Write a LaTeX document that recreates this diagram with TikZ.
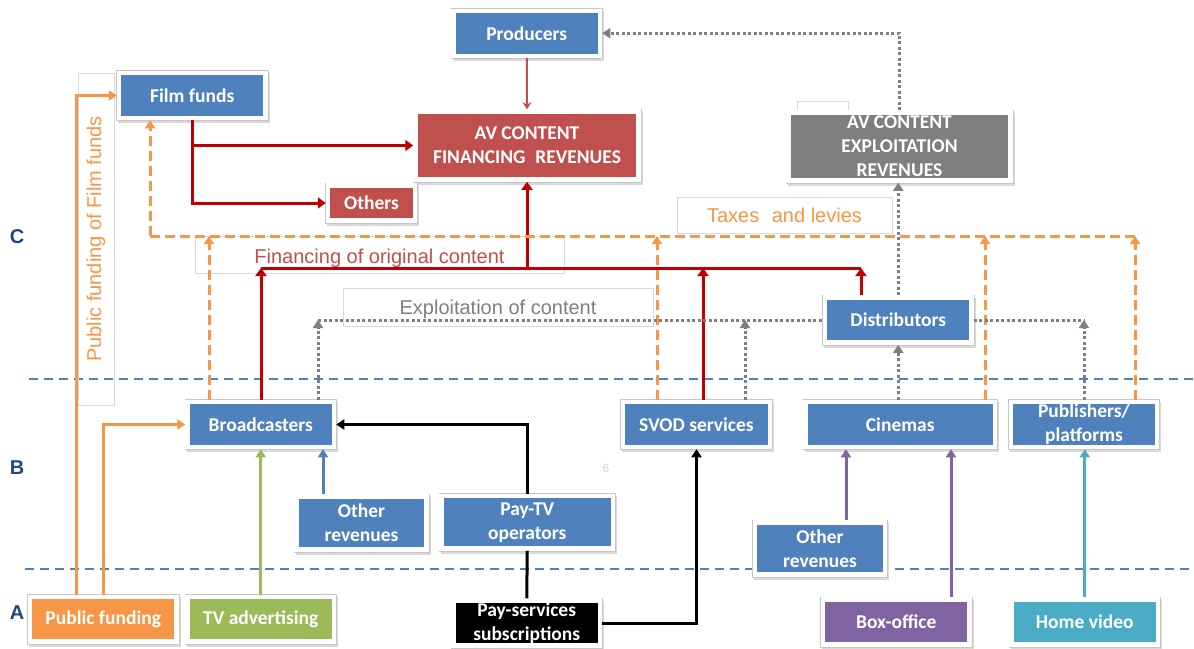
\documentclass[tikz,border=0pt]{standalone}
\usepackage{fontspec}
\setmainfont{Liberation Sans}
\newfontfamily\boxfont{Carlito}
\usetikzlibrary{arrows.meta}
\definecolor{cblue}{HTML}{4F81BD}
\definecolor{cred}{HTML}{C0504D}
\definecolor{cgray}{HTML}{7F7F7F}
\definecolor{corange}{HTML}{F79646}
\definecolor{cgreen}{HTML}{9BBB59}
\definecolor{cpurple}{HTML}{8064A2}
\definecolor{cteal}{HTML}{4BACC6}
\definecolor{darkred}{HTML}{C00000}
\definecolor{cletter}{HTML}{1F497D}
\tikzset{
  cbox/.style={rectangle, inner sep=0pt, draw=white, line width=4.5pt, text=white,
    font=\boxfont\bfseries\fontsize{19.5}{24}\selectfont, align=center,
    minimum width=146.5pt, minimum height=45pt,
    preaction={fill=black!15, draw=black!15, line width=5pt, transform canvas={shift={(1.5pt,-2.5pt)}}},
    preaction={draw=black!22, line width=6pt}},
  lbl/.style={draw=black!15, line width=0.8pt, inner sep=0pt, font=\fontsize{20}{24}\selectfont},
  sepline/.style={draw=cblue, line width=1.5pt, dash pattern=on 9pt off 6pt},
  redl/.style={draw=darkred, line width=3pt, -{Triangle[length=8pt,width=11pt]}},
  redplain/.style={draw=darkred, line width=3pt},
  prodl/.style={draw=cred, line width=2pt, -{Stealth[length=7pt,width=9pt]}},
  grayl/.style={draw=cgray, line width=3pt, dash pattern=on 3pt off 2.5pt, -{Triangle[length=8pt,width=10pt]}},
  grayplain/.style={draw=cgray, line width=3pt, dash pattern=on 3pt off 2.5pt},
  orl/.style={draw=corange, line width=3pt, dash pattern=on 10pt off 5pt, -{Triangle[length=8pt,width=10pt]}},
  orplain/.style={draw=corange, line width=3pt, dash pattern=on 10pt off 5pt},
  orsolid/.style={draw=corange, line width=3pt, -{Triangle[length=8pt,width=10pt]}},
  blk/.style={draw=black, line width=3pt, -{Triangle[length=8pt,width=10pt]}},
  blkplain/.style={draw=black, line width=3pt},
  colarrow/.style={draw=#1, line width=3pt, -{Triangle[length=8pt,width=10pt]}},
  letter/.style={text=cletter, font=\bfseries\fontsize{20}{24}\selectfont}
}
\begin{document}
\begin{tikzpicture}[x=1pt,y=-1pt]
\useasboundingbox (0,0) rectangle (1194,648);
\fill[white] (0,0) rectangle (1194,648);
% separators
\draw[sepline] (29,379) -- (1194,379);
\draw[sepline] (25,569) -- (1194,569);
% label boxes
\node[lbl, minimum width=369pt, minimum height=37pt, text=cred, text height=18.5pt, text depth=0pt] (finlbl) at (379.5,254.5) {Financing of original content};
\node[lbl, minimum width=310pt, minimum height=38pt, text=cgray, text height=15pt, text depth=0pt] (explbl) at (498,307) {Exploitation of content};
\node[lbl, minimum width=215pt, minimum height=36pt, text=corange] (taxlbl) at (784.5,215) {Taxes\hspace{0.35em} and levies};
\node[lbl, minimum width=332pt, minimum height=36pt, text=corange, rotate=90] (pflbl) at (96,239) {Public funding of Film funds};
\draw[black!15, line width=0.8pt] (797,110) -- (797,101) -- (848,101) -- (848,110);
% letters
\node[letter] (lc) at (17,237) {C};
\node[letter] (lb) at (17,468) {B};
\node[letter] (la) at (17,613) {A};
\node[text=black!18, font=\fontsize{12}{14}\selectfont] (pg) at (606,468) {6};
% boxes
\node[cbox, fill=cblue] (prod) at (526.75,33.25) {Producers};
\node[cbox, fill=cblue] (ff) at (192.25,95.5) {Film funds};
\node[cbox, fill=cred, minimum width=223pt, minimum height=68pt] (avfin) at (527,145.5) {AV CONTENT\\FINANCING\hspace{0.5em}REVENUES};
\node[cbox, fill=cred, minimum width=87pt, minimum height=35pt] (oth) at (371.5,203) {Others};
\node[cbox, fill=cgray, minimum width=222pt, minimum height=68pt] (avexp) at (899.5,146.5) {AV CONTENT\\EXPLOITATION\\REVENUES};
\node[cbox, fill=cblue] (dist) at (898.25,320) {Distributors};
\node[cbox, fill=cblue] (bc) at (260.75,424.5) {Broadcasters};
\node[cbox, fill=cblue, minimum width=147pt] (svod) at (696.5,424.5) {SVOD services};
\node[cbox, fill=cblue, minimum width=189.5pt] (cin) at (900.25,424.5) {Cinemas};
\node[cbox, fill=cblue, minimum width=146pt] (pub) at (1084,424.5) {Publishers/\\platforms};
\node[cbox, fill=cblue, minimum width=130pt, minimum height=53pt] (othl) at (361.5,523) {Other\\revenues};
\node[cbox, fill=cblue, minimum width=171.5pt, minimum height=52.5pt] (ptv) at (527.25,522.25) {Pay-TV\\operators};
\node[cbox, fill=cblue, minimum width=130pt, minimum height=52pt] (othr) at (820,548.5) {Other\\revenues};
\node[cbox, fill=corange, minimum height=44.5pt] (pf) at (103.25,619.25) {Public funding};
\node[cbox, fill=cgreen, minimum height=44.5pt] (tva) at (260.75,619.25) {TV advertising};
\node[cbox, fill=black] (psub) at (526.75,623) {Pay-services\\subscriptions};
\node[cbox, fill=cpurple] (bo) at (896.25,622) {Box-office};
\node[cbox, fill=cteal] (hv) at (1084.75,622) {Home video};
% producers -> AV financing
\draw[prodl] (prod.south) -- (avfin.north);
% film funds red
\draw[redl] (ff.south) |- (avfin.west);
\draw[redl] (ff.south |- avfin.west) |- (oth.west);
% financing bus
\coordinate (fb) at (527,268);
\draw[redplain] (261,268) -- (861,268);
\draw[redl] (261,0 |- bc.north) -- (261,268);
\draw[redl] (703,0 |- svod.north) -- (703,268);
\draw[redl] (861,0 |- dist.north) -- (861,268);
\draw[redl] (fb) -- (avfin.south);
% taxes and levies bus
\coordinate (tb) at (1135,236);
\draw[orplain] (tb) -- (150,236);
\draw[orl] (150,236) -- (150,0 |- ff.south);
\draw[orl] (209,0 |- bc.north) -- (209,236);
\draw[orl] (657,0 |- svod.north) -- (657,236);
\draw[orl] (985,0 |- cin.north) -- (985,236);
\draw[orl] (1135,0 |- pub.north) -- (tb);
% exploitation bus
\draw[grayplain] (318,320) -- (dist.west);
\draw[grayplain] (dist.east) -- (1084,320);
\draw[grayl] (318,0 |- bc.north) -- (318,320);
\draw[grayl] (745,0 |- svod.north) -- (745,320);
\draw[grayl] (1084,0 |- pub.north) -- (1084,320);
\draw[grayl] (dist.south |- cin.north) -- (dist.south);
\draw[grayl] (dist.north) -- (dist.north |- avexp.south);
\draw[grayl] (avexp.north) |- (prod.east);
% public funding
\draw[orsolid] (76,0 |- pf.north) |- (ff.west);
\draw[orsolid] (103,0 |- pf.north) |- (bc.west);
% pay TV
\draw[blk] (ptv.north) |- (bc.east);
\draw[blkplain] (ptv.south) -- (psub.north);
\draw[blk] (psub.east) -| (svod.south);
% other sources
\draw[colarrow=cgreen] (tva.north) -- (bc.south);
\draw[colarrow=cblue] (323,0 |- othl.north) -- (323,0 |- bc.south);
\draw[colarrow=cpurple] (846,0 |- othr.north) -- (846,0 |- cin.south);
\draw[colarrow=cpurple] (951,0 |- bo.north) -- (951,0 |- cin.south);
\draw[colarrow=cteal] (hv.north) -- (hv.north |- pub.south);
\end{tikzpicture}
\end{document}
